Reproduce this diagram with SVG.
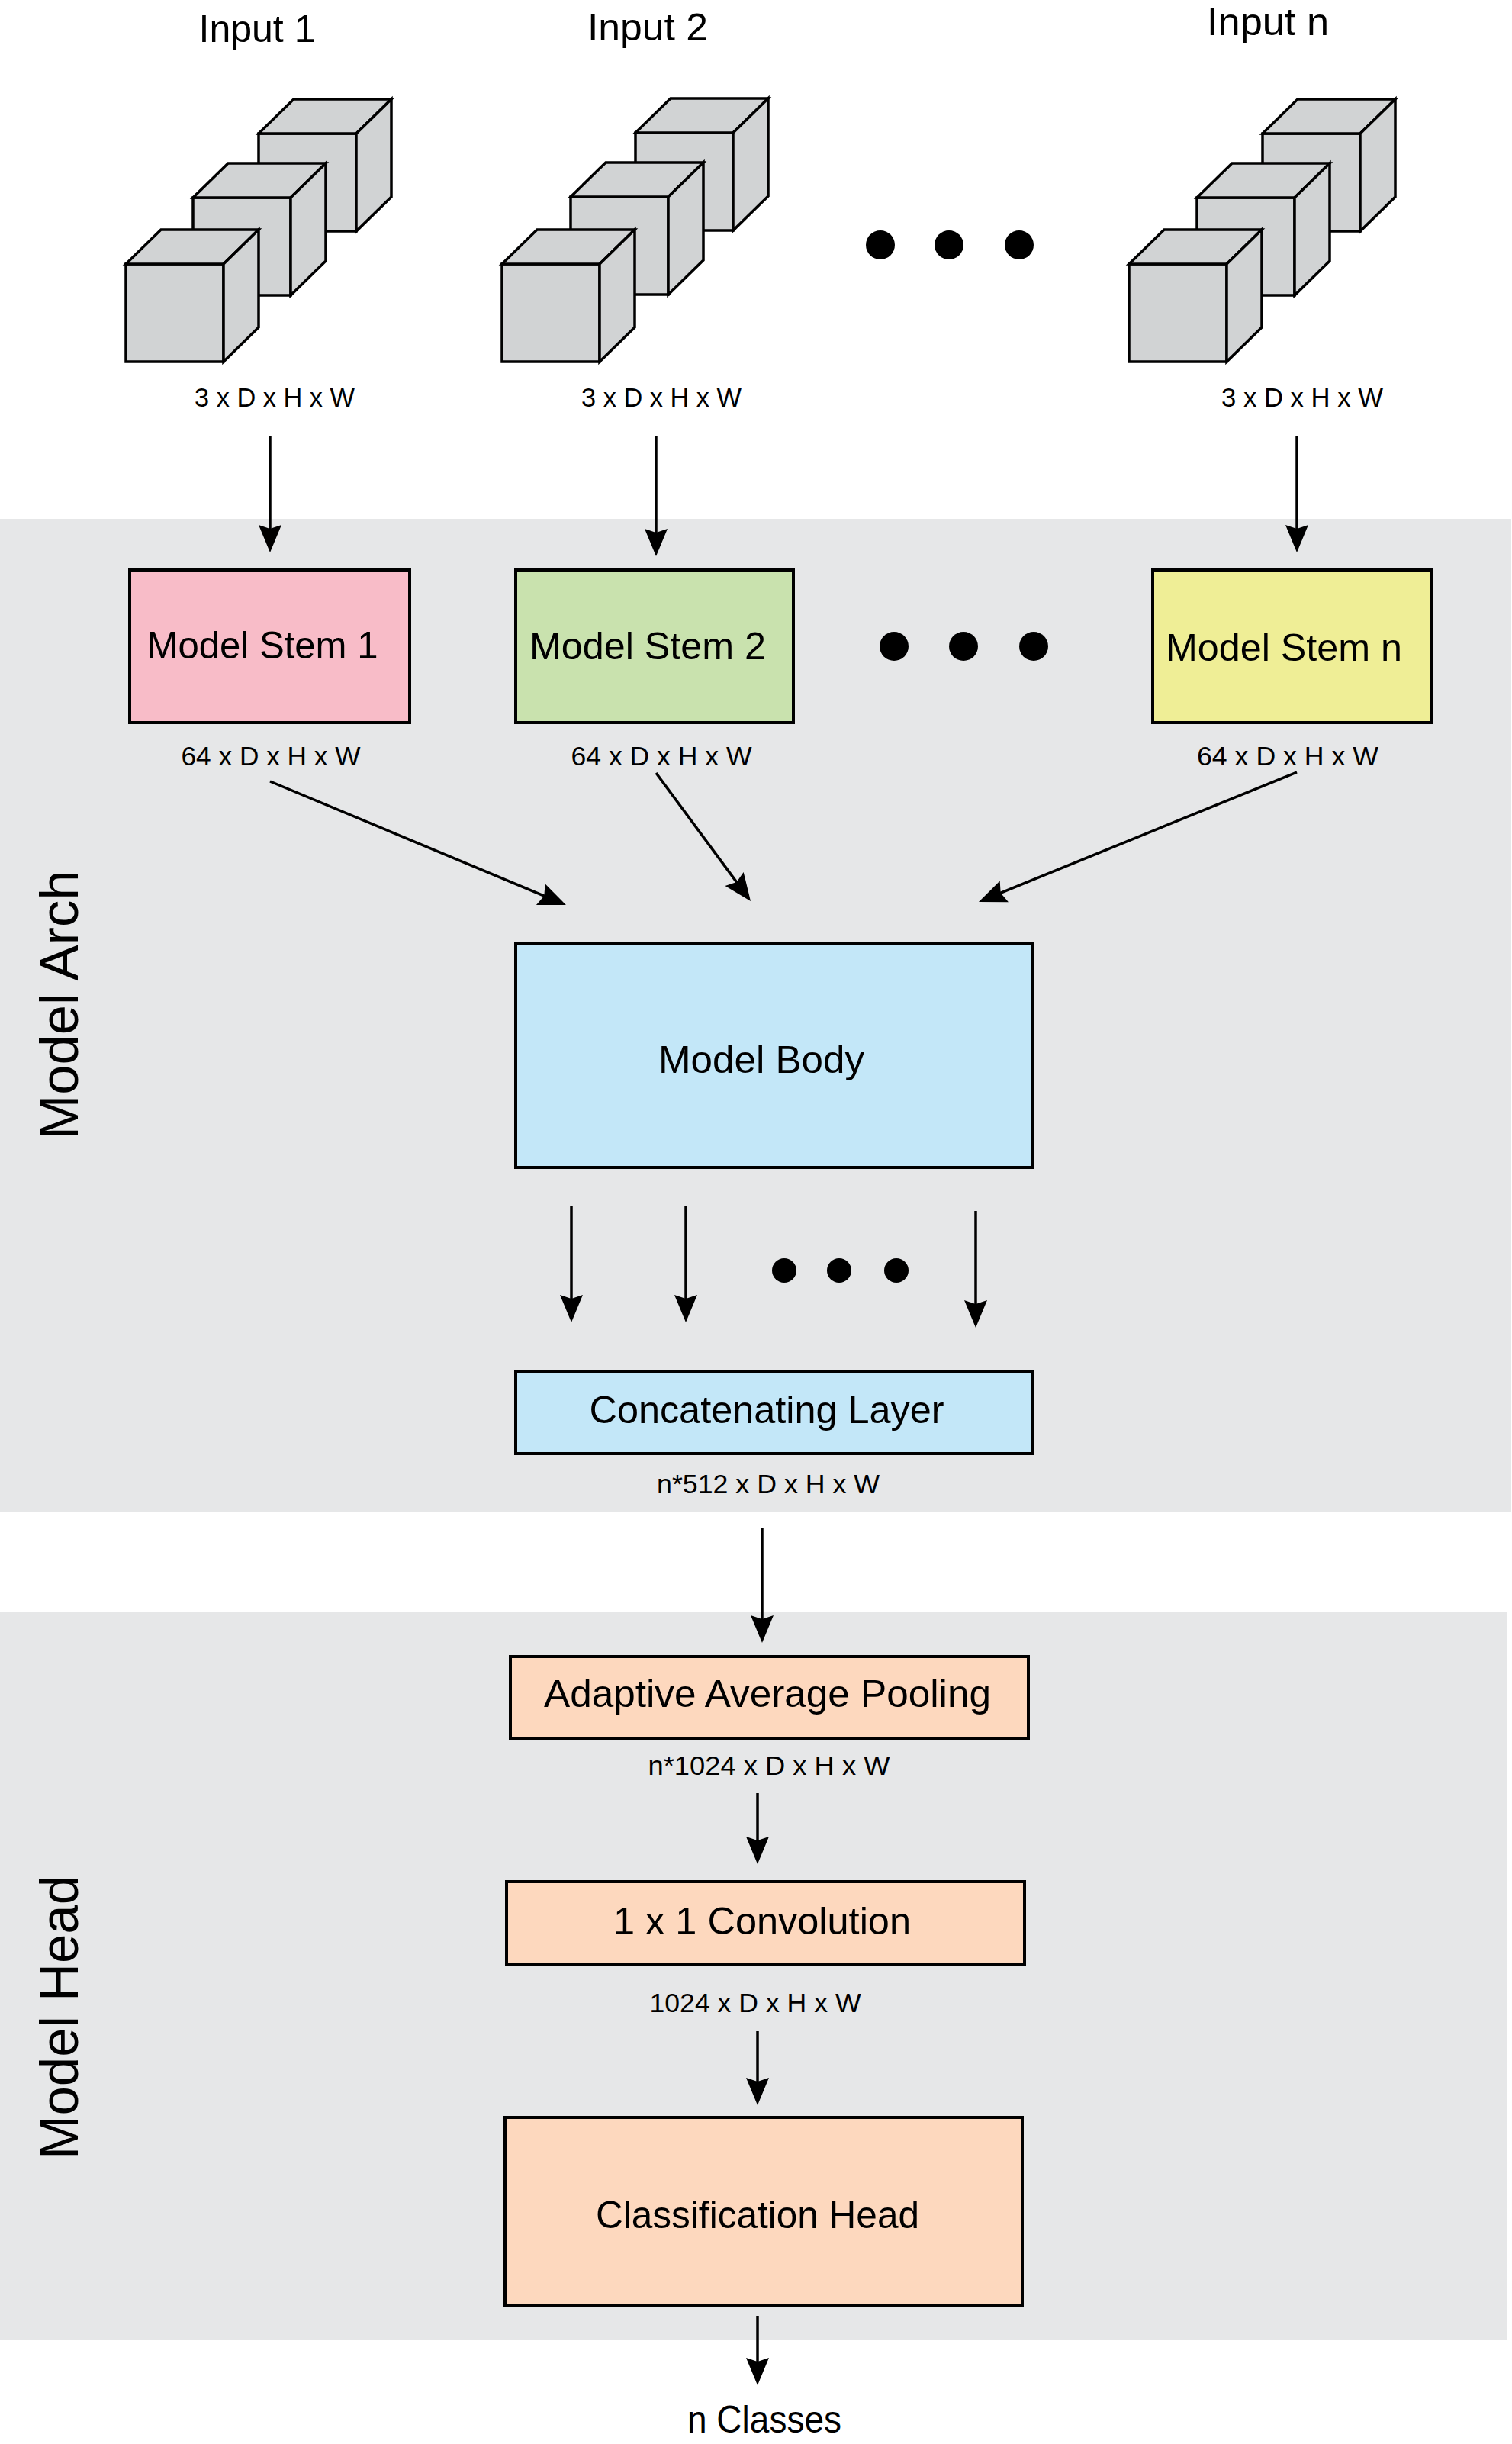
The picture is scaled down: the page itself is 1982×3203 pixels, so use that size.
<svg xmlns="http://www.w3.org/2000/svg" xmlns:xlink="http://www.w3.org/1999/xlink" width="1982" height="3203" viewBox="0 0 1982 3203">
<style>
text{font-family:"Liberation Sans","Arial",sans-serif;fill:#000;text-anchor:middle}
.big{font-size:50px}
.lbl{font-size:35px}
.side{font-size:70px}
.cf{fill:#D1D3D4;stroke:#000;stroke-width:3.5;stroke-linejoin:miter}
.box{stroke:#000;stroke-width:4}
.panel{fill:#E6E7E8}
.conn line{stroke:#000;stroke-width:3.5;fill:none;marker-end:url(#ah)}
.dot{fill:#000}
</style>
<defs>
<marker id="ah" viewBox="-40 -20 45 40" refX="-20" refY="0" markerWidth="45" markerHeight="40" markerUnits="userSpaceOnUse" orient="auto">
<path d="M0,0 L-36,-15 L-31,0 L-36,15 Z" fill="#000"/>
</marker>
<g id="cube">
<path class="cf" d="M0,0 H128 V128 H0 Z"/>
<path class="cf" d="M0,0 L46,-45 H174 L128,0 Z"/>
<path class="cf" d="M128,0 L174,-45 V83 L128,128 Z"/>
</g>
</defs>
<rect width="1982" height="3203" fill="#fff"/>
<g id="panels">
<rect class="panel" x="0" y="680" width="1981" height="1302"/>
<rect class="panel" x="0" y="2113" width="1976" height="954"/>
<text class="side" transform="translate(102,1317) rotate(-90)" textLength="353" lengthAdjust="spacingAndGlyphs">Model Arch</text>
<text class="side" transform="translate(102,2644) rotate(-90)" textLength="372" lengthAdjust="spacingAndGlyphs">Model Head</text>
</g>
<g id="input1">
<text class="big" x="337" y="55" textLength="153" lengthAdjust="spacingAndGlyphs">Input 1</text>
<g transform="translate(165,346)"><use href="#cube" x="174" y="-171"/><use href="#cube" x="88" y="-87"/><use href="#cube"/></g>
<text class="lbl" x="360" y="533" textLength="210" lengthAdjust="spacingAndGlyphs">3 x D x H x W</text>
</g>
<g id="input2">
<text class="big" x="849" y="53" textLength="158" lengthAdjust="spacingAndGlyphs">Input 2</text>
<g transform="translate(658,346)"><use href="#cube" x="175" y="-172"/><use href="#cube" x="90" y="-88"/><use href="#cube"/></g>
<text class="lbl" x="867" y="533" textLength="210" lengthAdjust="spacingAndGlyphs">3 x D x H x W</text>
</g>
<g id="inputn">
<text class="big" x="1662" y="46" textLength="160" lengthAdjust="spacingAndGlyphs">Input n</text>
<g transform="translate(1480,346)"><use href="#cube" x="175" y="-171"/><use href="#cube" x="89" y="-87"/><use href="#cube"/></g>
<text class="lbl" x="1707" y="533" textLength="212" lengthAdjust="spacingAndGlyphs">3 x D x H x W</text>
</g>
<g id="dots-inputs">
<circle class="dot" cx="1154" cy="321" r="19"/><circle class="dot" cx="1244" cy="321" r="19"/><circle class="dot" cx="1336" cy="321" r="19"/>
</g>
<g id="stem1">
<rect class="box" x="170" y="747" width="367" height="200" fill="#F8BCC8"/>
<text class="big" x="344" y="863" textLength="303" lengthAdjust="spacingAndGlyphs">Model Stem 1</text>
<text class="lbl" x="355" y="1003" textLength="235" lengthAdjust="spacingAndGlyphs">64 x D x H x W</text>
</g>
<g id="stem2">
<rect class="box" x="676" y="747" width="364" height="200" fill="#C9E2AE"/>
<text class="big" x="849" y="864" textLength="310" lengthAdjust="spacingAndGlyphs">Model Stem 2</text>
<text class="lbl" x="867" y="1003" textLength="237" lengthAdjust="spacingAndGlyphs">64 x D x H x W</text>
</g>
<g id="stemn">
<rect class="box" x="1511" y="747" width="365" height="200" fill="#EFEE96"/>
<text class="big" x="1683" y="866" textLength="310" lengthAdjust="spacingAndGlyphs">Model Stem n</text>
<text class="lbl" x="1688" y="1003" textLength="238" lengthAdjust="spacingAndGlyphs">64 x D x H x W</text>
</g>
<g id="dots-stems">
<circle class="dot" cx="1172" cy="847" r="19"/><circle class="dot" cx="1263" cy="847" r="19"/><circle class="dot" cx="1355" cy="847" r="19"/>
</g>
<g id="body">
<rect class="box" x="676" y="1237" width="678" height="293" fill="#C3E7F8"/>
<text class="big" x="998" y="1406" textLength="270" lengthAdjust="spacingAndGlyphs">Model Body</text>
</g>
<g id="dots-body">
<circle class="dot" cx="1028" cy="1665" r="16"/><circle class="dot" cx="1100" cy="1665" r="16"/><circle class="dot" cx="1175" cy="1665" r="16"/>
</g>
<g id="concat">
<rect class="box" x="676" y="1797" width="678" height="108" fill="#C3E7F8"/>
<text class="big" x="1005" y="1865" textLength="465" lengthAdjust="spacingAndGlyphs">Concatenating Layer</text>
<text class="lbl" x="1007" y="1957" textLength="292" lengthAdjust="spacingAndGlyphs">n*512 x D x H x W</text>
</g>
<g id="pool">
<rect class="box" x="669" y="2171" width="679" height="108" fill="#FDD8BE"/>
<text class="big" x="1006" y="2237" textLength="586" lengthAdjust="spacingAndGlyphs">Adaptive Average Pooling</text>
<text class="lbl" x="1008" y="2326" textLength="317" lengthAdjust="spacingAndGlyphs">n*1024 x D x H x W</text>
</g>
<g id="conv">
<rect class="box" x="664" y="2466" width="679" height="109" fill="#FDD8BE"/>
<text class="big" x="999" y="2535" textLength="390" lengthAdjust="spacingAndGlyphs">1 x 1 Convolution</text>
<text class="lbl" x="990" y="2637" textLength="277" lengthAdjust="spacingAndGlyphs">1024 x D x H x W</text>
</g>
<g id="head">
<rect class="box" x="662" y="2775" width="678" height="247" fill="#FDD8BE"/>
<text class="big" x="993" y="2920" textLength="424" lengthAdjust="spacingAndGlyphs">Classification Head</text>
</g>
<g id="output">
<text class="big" x="1002" y="3188" textLength="202" lengthAdjust="spacingAndGlyphs">n Classes</text>
</g>
<g id="connectors" class="conn">
<line x1="354" y1="572" x2="354" y2="704"/>
<line x1="860" y1="572" x2="860" y2="709"/>
<line x1="1700" y1="572" x2="1700" y2="704"/>
<line x1="354" y1="1024" x2="723.5" y2="1178.3"/>
<line x1="860" y1="1013" x2="972.1" y2="1164.9"/>
<line x1="1700" y1="1012" x2="1301.5" y2="1174.4"/>
<line x1="749" y1="1580" x2="749" y2="1713"/>
<line x1="899" y1="1580" x2="899" y2="1713"/>
<line x1="1279" y1="1587" x2="1279" y2="1720"/>
<line x1="999" y1="2002" x2="999" y2="2133"/>
<line x1="993" y1="2350" x2="993" y2="2423"/>
<line x1="993" y1="2662" x2="993" y2="2739"/>
<line x1="993" y1="3035" x2="993" y2="3106"/>
</g>
</svg>
